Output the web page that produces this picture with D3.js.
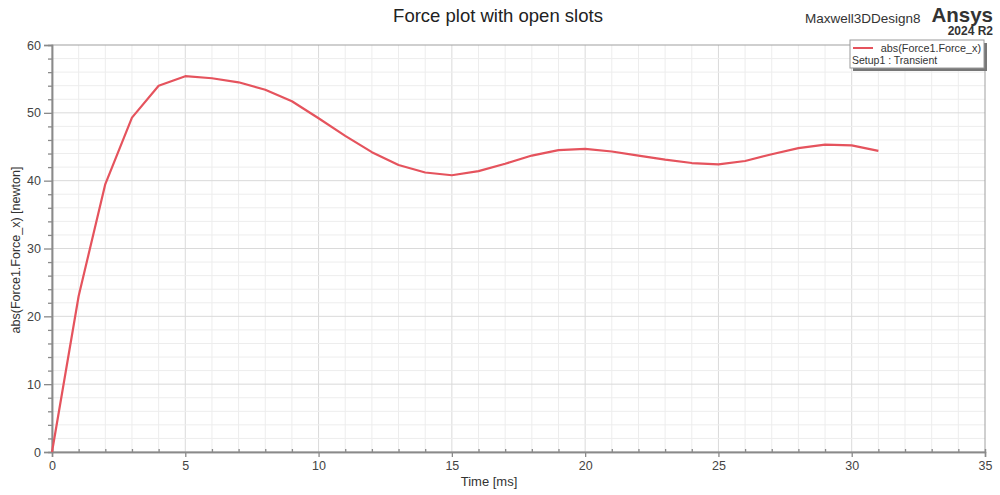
<!DOCTYPE html>
<html><head><meta charset="utf-8">
<script src="https://cdn.jsdelivr.net/npm/d3@7"></script>
<style>body{margin:0;background:#fff;}svg{display:block;font-family:"Liberation Sans",Arial,sans-serif;}</style>
</head><body><svg id="c" width="1000" height="495"></svg>
<script>
const timeMs = [0,1,2,3,4,5,6,7,8,9,10,11,12,13,14,15,16,17,18,19,20,21,22,23,24,25,26,27,28,29,30,31];
const forceX = [0,23,39.5,49.3,54,55.4,55.1,54.5,53.4,51.7,49.2,46.6,44.2,42.3,41.2,40.8,41.4,42.5,43.7,44.5,44.7,44.3,43.7,43.1,42.6,42.4,42.9,43.9,44.8,45.3,45.2,44.4];
const xTicks = [0,5,10,15,20,25,30,35];
const yTicks = [0,10,20,30,40,50,60];
const seriesName = "abs(Force1.Force_x)";
const setupName = "Setup1 : Transient";

const svg = d3.select("#c");
const L=52,R=985,T=45,B=452;
const x = d3.scaleLinear().domain([0,35]).range([L,R]);
const y = d3.scaleLinear().domain([0,60]).range([B,T]);

// grid
const g = svg.append("g");
g.selectAll(".mx").data(d3.range(1,35)).join("line")
 .attr("x1",d=>x(d)).attr("x2",d=>x(d)).attr("y1",T).attr("y2",B)
 .attr("stroke",d=>d%5===0?"#dadada":"#ededed").attr("stroke-width",1);
g.selectAll(".my").data(d3.range(2,60,2)).join("line")
 .attr("y1",d=>y(d)).attr("y2",d=>y(d)).attr("x1",L).attr("x2",R)
 .attr("stroke",d=>d%10===0?"#dadada":"#ededed").attr("stroke-width",1);

// frame
svg.append("rect").attr("x",L).attr("y",T).attr("width",R-L).attr("height",B-T)
 .attr("fill","none").attr("stroke","#a0a0a0").attr("stroke-width",1);

// axes
const xa = svg.append("g").attr("transform",`translate(0,${B})`)
 .call(d3.axisBottom(x).tickValues(xTicks).tickSize(5).tickPadding(4).tickFormat(d3.format("d")));
const xm = svg.append("g").attr("transform",`translate(0,${B})`)
 .call(d3.axisBottom(x).tickValues(d3.range(1,35).filter(d=>d%5)).tickSize(-3).tickFormat(""));
const ya = svg.append("g").attr("transform",`translate(${L},0)`)
 .call(d3.axisLeft(y).tickValues(yTicks).tickSize(8).tickPadding(3).tickFormat(d3.format("d")));
const ym = svg.append("g").attr("transform",`translate(${L},0)`)
 .call(d3.axisLeft(y).tickValues(d3.range(2,60,2).filter(d=>d%10)).tickSize(4).tickFormat(""));
[xa,xm,ya,ym].forEach(a=>{
  a.select(".domain").attr("stroke","#8a8a8a").attr("stroke-width",1.5);
  a.selectAll(".tick line").attr("stroke","#8a8a8a").attr("stroke-width",1.3);
  a.selectAll(".tick text").attr("fill","#444").attr("font-size",12.5);
});

// line
svg.append("path").datum(timeMs.map((t,i)=>[t,forceX[i]]))
 .attr("fill","none").attr("stroke","#e5535d").attr("stroke-width",2.2).attr("stroke-linejoin","round")
 .attr("d",d3.line().x(d=>x(d[0])).y(d=>y(d[1])));

// titles
svg.append("text").attr("x",498).attr("y",22).attr("text-anchor","middle")
 .attr("font-size",18.5).attr("fill","#222").text("Force plot with open slots");
svg.append("text").attr("x",805).attr("y",23).attr("font-size",13.5).attr("fill","#333").text("Maxwell3DDesign8");
svg.append("text").attr("x",993).attr("y",22).attr("text-anchor","end").attr("font-size",20.5).attr("font-weight","bold").attr("fill","#333").text("Ansys");
svg.append("text").attr("x",993).attr("y",35).attr("text-anchor","end").attr("font-size",12).attr("font-weight","bold").attr("fill","#333").text("2024 R2");

svg.append("text").attr("x",489).attr("y",486).attr("text-anchor","middle").attr("font-size",13).attr("fill","#333").text("Time [ms]");
svg.append("text").attr("transform","translate(20,250) rotate(-90)").attr("text-anchor","middle")
 .attr("font-size",12.5).attr("fill","#333").text("abs(Force1.Force_x) [newton]");

// legend
const lg = svg.append("g");
lg.append("rect").attr("x",853).attr("y",43).attr("width",134).attr("height",28).attr("fill","#777");
lg.append("rect").attr("x",850).attr("y",40).attr("width",134).attr("height",28).attr("fill","#fff").attr("stroke","#999");
lg.append("line").attr("x1",853).attr("x2",873).attr("y1",48).attr("y2",48).attr("stroke","#e5535d").attr("stroke-width",2);
lg.append("text").attr("x",981).attr("y",52).attr("text-anchor","end").attr("font-size",10.8).attr("fill","#333").text(seriesName);
lg.append("text").attr("x",852).attr("y",64).attr("font-size",10.5).attr("fill","#333").text(setupName);
</script></body></html>
